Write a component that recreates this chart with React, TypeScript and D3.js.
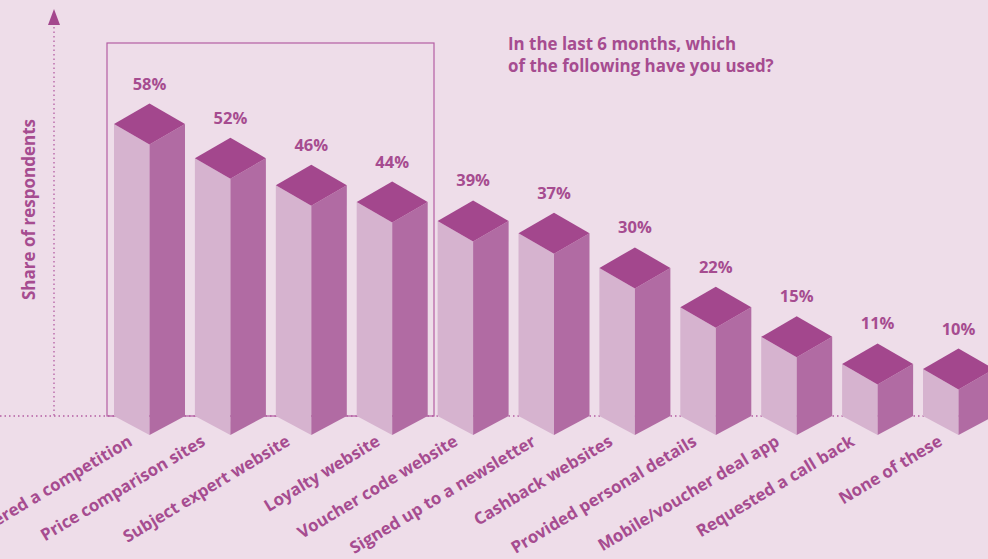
import React from "react";
import * as d3 from "d3";

const categories = ["Entered a competition","Price comparison sites","Subject expert website","Loyalty website","Voucher code website","Signed up to a newsletter","Cashback websites","Provided personal details","Mobile/voucher deal app","Requested a call back","None of these"];
const valueLabels = ["58%","52%","46%","44%","39%","37%","30%","22%","15%","11%","10%"];
const drawnValues = [58,51.3,46,42.7,39,36.6,29.8,22.1,16.3,11,10];
const titleLines = ["In the last 6 months, which","of the following have you used?"];
const yAxisTitle = "Share of respondents";

const W = 988, H = 559;
const BG = "#eedde9", TOP = "#a3478d", LEFT = "#d6b3cf", RIGHT = "#b16ba3", TEXT = "#a64c90", FRAME = "#b45ea3";
const FONT = "'Open Sans', 'Noto Sans', sans-serif";

const x = d3.scalePoint<string>().domain(categories).range([149.5, 958.5]);
const y = d3.scaleLinear().domain([10, 58]).range([369, 124]);
const BASE = 416, HW = 35.5, RISE = 20.5, DROP = 19;
const labelNudge = [3, -5, -1, 8, 5, 2, -2, 1, 3, -3, 4];
const line = d3.line();

export default function App() {
  return (
    <svg width={W} height={H} viewBox={`0 0 ${W} ${H}`}
      style={{ position: "fixed", left: 0, top: 0, display: "block", background: BG, fontFamily: FONT }}>
      <rect x={0} y={0} width={W} height={H} fill={BG} />
      <rect x={107} y={43} width={327} height={373} fill="none" stroke={FRAME} strokeWidth={1.2} />
      <line x1={0} x2={W} y1={416} y2={416} stroke={FRAME} strokeWidth={1.3} strokeDasharray="1.5 3" />
      <line x1={54} x2={54} y1={27} y2={416} stroke={FRAME} strokeWidth={1.3} strokeDasharray="1.5 3" />
      <path d={line([[54, 9], [60, 25], [48, 25]])! + "Z"} fill={TOP} />
      <text transform="translate(35,300) rotate(-90)" fill={TEXT} fontSize={17} fontWeight={700}>{yAxisTitle}</text>
      {titleLines.map((t, i) => (
        <text key={t} x={508} y={50 + i * 22} fill={TEXT} fontSize={16.9} fontWeight={700}>{t}</text>
      ))}
      {categories.map((c, i) => {
        const cx = x(c)!;
        const yl = y(drawnValues[i]);
        const l = cx - HW, r = cx + HW;
        return (
          <g key={c}>
            <path d={line([[l, yl], [cx, yl + RISE], [cx, BASE + DROP], [l, BASE]])! + "Z"} fill={LEFT} />
            <path d={line([[cx, yl + RISE], [r, yl], [r, BASE], [cx, BASE + DROP]])! + "Z"} fill={RIGHT} />
            <path d={line([[l, yl], [cx, yl - RISE], [r, yl], [cx, yl + RISE]])! + "Z"} fill={TOP} />
            <text x={cx} y={yl - 34.5} textAnchor="middle" fill={TEXT} fontSize={16.5} fontWeight={700}>{valueLabels[i]}</text>
            <text transform={`translate(${cx - 19 + labelNudge[i]},${BASE + 28.5}) rotate(-31)`} textAnchor="end" fill={TEXT} fontSize={16.8} fontWeight={700}>{c}</text>
          </g>
        );
      })}
    </svg>
  );
}
